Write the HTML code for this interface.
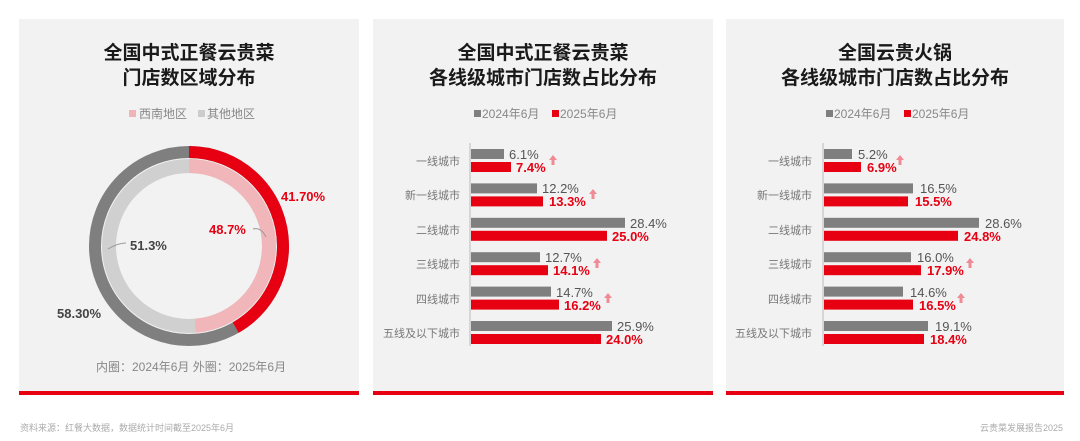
<!DOCTYPE html>
<html><head><meta charset="utf-8"><style>
body{margin:0;background:#fff;}
svg{display:block;font-family:"Liberation Sans","Noto Sans CJK SC",sans-serif;}
</style></head><body>
<svg width="1080" height="441" viewBox="0 0 1080 441">
<rect x="19" y="19" width="340" height="373" fill="#f2f2f2"/>
<rect x="373" y="19" width="340" height="373" fill="#f2f2f2"/>
<rect x="726" y="19" width="338" height="373" fill="#f2f2f2"/>
<rect x="19" y="391" width="340" height="4" fill="#e60012"/>
<rect x="373" y="391" width="340" height="4" fill="#e60012"/>
<rect x="726" y="391" width="338" height="4" fill="#e60012"/>

<g font-weight="bold" font-size="19" fill="#1a1a1a" text-anchor="middle">
<text x="189" y="59">全国中式正餐云贵菜</text>
<text x="189" y="84">门店数区域分布</text>
<text x="543" y="59">全国中式正餐云贵菜</text>
<text x="543" y="84">各线级城市门店数占比分布</text>
<text x="895" y="59">全国云贵火锅</text>
<text x="895" y="84">各线级城市门店数占比分布</text>
</g>

<!-- legend panel1 -->
<g font-size="12" fill="#888">
<rect x="129" y="110" width="7" height="7" fill="#f0b4b8"/><text x="139" y="118">西南地区</text>
<rect x="198" y="110" width="7" height="7" fill="#ccc"/><text x="207" y="118">其他地区</text>
<rect x="474" y="110" width="7" height="7" fill="#7f7f7f"/><text x="482" y="118">2024年6月</text>
<rect x="552" y="110" width="7" height="7" fill="#e60012"/><text x="560" y="118">2025年6月</text>
<rect x="826" y="110" width="7" height="7" fill="#7f7f7f"/><text x="834" y="118">2024年6月</text>
<rect x="904" y="110" width="7" height="7" fill="#e60012"/><text x="912" y="118">2025年6月</text>
</g>

<!-- donut -->
<g transform="translate(189,246)">
<circle r="94" fill="none" stroke="#7f7f7f" stroke-width="12"/>
<circle r="94" fill="none" stroke="#e60012" stroke-width="12" stroke-dasharray="246.3 1000" transform="rotate(-90)"/>
<circle r="80" fill="none" stroke="#d0d0d0" stroke-width="14"/>
<circle r="80" fill="none" stroke="#f1b6ba" stroke-width="14" stroke-dasharray="244.8 1000" transform="rotate(-90)"/>
</g>
<path d="M253 229 q8 -2 13 8" stroke="#999" fill="none"/>
<path d="M108 249 q10 -6 18 -6" stroke="#999" fill="none"/>
<g font-weight="bold" font-size="13">
<text x="281" y="201" fill="#e60012">41.70%</text>
<text x="209" y="234" fill="#e60012">48.7%</text>
<text x="130" y="250" fill="#444">51.3%</text>
<text x="57" y="318" fill="#444">58.30%</text>
</g>
<text x="96" y="371" font-size="12" fill="#888">内圈：2024年6月  外圈：2025年6月</text>

<!-- bar chart 2 -->
<g id="b2">
<line x1="470" y1="143" x2="470" y2="346" stroke="#bbb"/>
</g>
<g font-size="11" fill="#777" text-anchor="end">
<text x="460" y="165">一线城市</text><text x="460" y="199">新一线城市</text><text x="460" y="234">二线城市</text><text x="460" y="268">三线城市</text><text x="460" y="303">四线城市</text><text x="460" y="337">五线及以下城市</text>
<text x="812" y="165">一线城市</text><text x="812" y="199">新一线城市</text><text x="812" y="234">二线城市</text><text x="812" y="268">三线城市</text><text x="812" y="303">四线城市</text><text x="812" y="337">五线及以下城市</text>
</g>
<g fill="#7f7f7f">
<rect x="471" y="149" width="33" height="10"/><rect x="471" y="183.4" width="66" height="10"/><rect x="471" y="217.8" width="154" height="10"/><rect x="471" y="252.2" width="69" height="10"/><rect x="471" y="286.6" width="80" height="10"/><rect x="471" y="321" width="141" height="10"/>
</g>
<g fill="#e60012">
<rect x="471" y="162" width="40" height="10"/><rect x="471" y="196.4" width="72" height="10"/><rect x="471" y="230.8" width="136" height="10"/><rect x="471" y="265.2" width="77" height="10"/><rect x="471" y="299.6" width="88" height="10"/><rect x="471" y="334" width="130" height="10"/>
</g>
<g font-size="13" fill="#555">
<text x="509" y="159">6.1%</text><text x="542" y="193">12.2%</text><text x="630" y="228">28.4%</text><text x="545" y="262">12.7%</text><text x="556" y="297">14.7%</text><text x="617" y="331">25.9%</text>
</g>
<g font-size="13" fill="#e60012" font-weight="bold">
<text x="516" y="172">7.4%</text><text x="549" y="206">13.3%</text><text x="612" y="241">25.0%</text><text x="553" y="275">14.1%</text><text x="564" y="310">16.2%</text><text x="606" y="344">24.0%</text>
</g>
<g fill="#f08a94">
<path d="M549 160 l4 -5 l4 5 h-2.5 v5 h-3 v-5z"/><path d="M589 194 l4 -5 l4 5 h-2.5 v5 h-3 v-5z"/><path d="M593 263 l4 -5 l4 5 h-2.5 v5 h-3 v-5z"/><path d="M604 298 l4 -5 l4 5 h-2.5 v5 h-3 v-5z"/>
</g>

<!-- bar chart 3 -->
<line x1="823" y1="143" x2="823" y2="346" stroke="#bbb"/>
<g fill="#7f7f7f">
<rect x="824" y="149" width="28" height="10"/><rect x="824" y="183.4" width="89" height="10"/><rect x="824" y="217.8" width="155" height="10"/><rect x="824" y="252.2" width="87" height="10"/><rect x="824" y="286.6" width="79" height="10"/><rect x="824" y="321" width="104" height="10"/>
</g>
<g fill="#e60012">
<rect x="824" y="162" width="37" height="10"/><rect x="824" y="196.4" width="84" height="10"/><rect x="824" y="230.8" width="134" height="10"/><rect x="824" y="265.2" width="97" height="10"/><rect x="824" y="299.6" width="89" height="10"/><rect x="824" y="334" width="100" height="10"/>
</g>
<g font-size="13" fill="#555">
<text x="858" y="159">5.2%</text><text x="920" y="193">16.5%</text><text x="985" y="228">28.6%</text><text x="917" y="262">16.0%</text><text x="910" y="297">14.6%</text><text x="935" y="331">19.1%</text>
</g>
<g font-size="13" fill="#e60012" font-weight="bold">
<text x="867" y="172">6.9%</text><text x="915" y="206">15.5%</text><text x="964" y="241">24.8%</text><text x="927" y="275">17.9%</text><text x="919" y="310">16.5%</text><text x="930" y="344">18.4%</text>
</g>
<g fill="#f08a94">
<path d="M896 160 l4 -5 l4 5 h-2.5 v5 h-3 v-5z"/><path d="M966 263 l4 -5 l4 5 h-2.5 v5 h-3 v-5z"/><path d="M957 298 l4 -5 l4 5 h-2.5 v5 h-3 v-5z"/>
</g>

<text x="20" y="431" font-size="9" fill="#aaa">资料来源：红餐大数据，数据统计时间截至2025年6月</text>
<text x="1063" y="431" font-size="9" fill="#aaa" text-anchor="end">云贵菜发展报告2025</text>
</svg>
</body></html>
